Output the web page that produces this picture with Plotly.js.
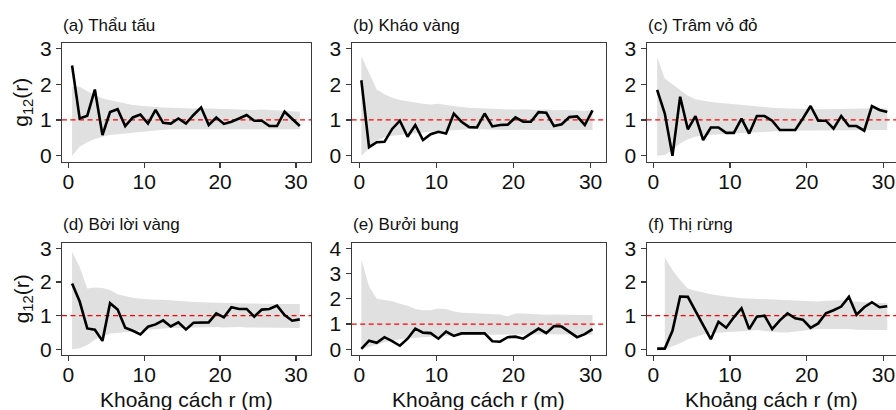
<!DOCTYPE html>
<html><head><meta charset="utf-8">
<script src="https://cdn.plot.ly/plotly-3.0.1.min.js"></script>
<style>html,body{margin:0;padding:0;background:#fff}#chart{width:896px;height:410px}</style>
</head><body><div id="chart"></div><script>
// distance grids (m)
const rMain  = [0.5,1.5,2.5,3.5,4.5,5.5,6.5,7.5,8.5,9.5,10.5,11.5,12.5,13.5,14.5,15.5,16.5,17.5,18.5,19.5,20.5,21.5,22.5,23.5,24.5,25.5,26.5,27.5,28.5,29.5,30.5];
const rShift = [0.25,1.25,2.25,3.25,4.25,5.25,6.25,7.25,8.25,9.25,10.25,11.25,12.25,13.25,14.25,15.25,16.25,17.25,18.25,19.25,20.25,21.25,22.25,23.25,24.25,25.25,26.25,27.25,28.25,29.25,30.25];

// panel titles
const titles = ["(a) Thẩu tấu","(b) Kháo vàng","(c) Trâm vỏ đỏ","(d) Bời lời vàng","(e) Bưởi bung","(f) Thị rừng"];
const xTitle = "Khoảng cách r (m)";
const yTitle = "g<sub>12</sub>(r)";
const refLevel = 1;

// (a) Thẩu tấu
const gA  = [2.52,1.04,1.12,1.85,0.58,1.22,1.30,0.83,1.07,1.15,0.90,1.28,0.92,0.90,1.04,0.90,1.14,1.35,0.86,1.07,0.89,0.95,1.04,1.14,0.98,0.98,0.83,0.83,1.23,1.02,0.83];
const hiA = [1.93,1.93,1.80,1.70,1.60,1.55,1.50,1.46,1.42,1.40,1.37,1.36,1.35,1.34,1.34,1.33,1.32,1.33,1.32,1.31,1.30,1.29,1.30,1.29,1.28,1.29,1.28,1.27,1.26,1.25,1.23];
const loA = [0.00,0.25,0.38,0.47,0.53,0.58,0.61,0.64,0.66,0.68,0.70,0.71,0.73,0.74,0.75,0.75,0.76,0.76,0.75,0.76,0.76,0.75,0.76,0.75,0.75,0.76,0.74,0.74,0.75,0.74,0.74];
// (b) Kháo vàng
const gB  = [2.11,0.24,0.38,0.39,0.75,0.98,0.53,0.86,0.44,0.60,0.67,0.62,1.18,0.95,0.80,0.79,1.18,0.82,0.86,0.87,1.07,0.95,0.95,1.22,1.20,0.83,0.88,1.08,1.10,0.86,1.27];
const hiB = [2.79,2.30,1.85,1.72,1.62,1.56,1.52,1.48,1.45,1.43,1.45,1.42,1.38,1.36,1.34,1.33,1.32,1.31,1.30,1.30,1.29,1.30,1.28,1.28,1.29,1.27,1.28,1.27,1.28,1.26,1.28];
const loB = [0.00,0.20,0.42,0.52,0.56,0.58,0.60,0.63,0.65,0.67,0.68,0.70,0.72,0.73,0.75,0.76,0.75,0.74,0.73,0.72,0.72,0.73,0.72,0.72,0.71,0.70,0.70,0.71,0.72,0.72,0.72];
// (c) Trâm vỏ đỏ
const gC  = [1.84,1.18,0.00,1.65,0.74,1.11,0.44,0.79,0.79,0.64,0.64,1.04,0.62,1.11,1.11,0.98,0.72,0.72,0.72,1.04,1.39,0.98,0.98,0.76,1.11,0.83,0.83,0.70,1.39,1.28,1.22];
const hiC = [2.75,2.16,2.00,1.84,1.68,1.58,1.53,1.50,1.48,1.46,1.44,1.42,1.38,1.37,1.35,1.34,1.33,1.32,1.32,1.32,1.31,1.30,1.30,1.30,1.31,1.32,1.32,1.32,1.33,1.32,1.32];
const loC = [0.00,0.02,0.16,0.34,0.46,0.53,0.57,0.59,0.61,0.62,0.63,0.64,0.65,0.66,0.67,0.68,0.70,0.71,0.72,0.72,0.72,0.71,0.72,0.71,0.70,0.71,0.72,0.72,0.72,0.72,0.72];
// (d) Bời lời vàng
const gD  = [1.96,1.42,0.62,0.58,0.25,1.37,1.18,0.64,0.55,0.44,0.67,0.74,0.86,0.68,0.80,0.59,0.79,0.80,0.80,1.07,0.95,1.25,1.20,1.20,0.97,1.18,1.20,1.30,1.02,0.85,0.89];
const hiD = [2.90,2.45,1.81,1.84,1.82,1.76,1.64,1.58,1.53,1.50,1.48,1.47,1.47,1.45,1.43,1.42,1.41,1.40,1.39,1.38,1.38,1.37,1.37,1.36,1.36,1.35,1.35,1.35,1.35,1.35,1.35];
const loD = [0.00,0.03,0.13,0.28,0.38,0.46,0.49,0.52,0.53,0.56,0.58,0.60,0.62,0.63,0.63,0.64,0.65,0.65,0.65,0.66,0.65,0.65,0.66,0.65,0.65,0.64,0.64,0.65,0.63,0.63,0.63];
// (e) Bưởi bung
const gE  = [0.02,0.34,0.26,0.48,0.32,0.14,0.42,0.82,0.66,0.64,0.42,0.70,0.53,0.63,0.63,0.63,0.63,0.32,0.30,0.48,0.50,0.42,0.62,0.82,0.64,0.92,0.90,0.68,0.48,0.60,0.80];
const hiE = [3.56,2.50,2.00,1.95,1.90,1.80,1.72,1.60,1.55,1.55,1.62,1.60,1.50,1.45,1.44,1.43,1.42,1.40,1.38,1.30,1.42,1.42,1.40,1.38,1.37,1.38,1.37,1.36,1.36,1.36,1.36];
const loE = [0.00,0.10,0.18,0.28,0.35,0.40,0.44,0.46,0.48,0.50,0.52,0.54,0.55,0.56,0.57,0.57,0.58,0.58,0.57,0.58,0.58,0.58,0.59,0.59,0.60,0.61,0.60,0.60,0.59,0.58,0.58];
// (f) Thị rừng
const gF  = [0.02,0.02,0.55,1.57,1.56,1.12,0.72,0.30,0.82,0.64,0.95,1.22,0.60,0.97,1.00,0.60,0.86,1.07,0.92,0.88,0.64,0.77,1.07,1.16,1.27,1.56,1.03,1.25,1.40,1.25,1.28];
const hiF = [null,2.73,2.36,2.06,1.81,1.74,1.68,1.64,1.60,1.57,1.54,1.52,1.51,1.50,1.49,1.49,1.48,1.48,1.47,1.45,1.43,1.42,1.44,1.45,1.46,1.43,1.41,1.40,1.39,1.38,1.37];
const loF = [null,0.00,0.08,0.18,0.30,0.38,0.44,0.48,0.50,0.52,0.53,0.54,0.55,0.57,0.56,0.52,0.50,0.50,0.52,0.55,0.58,0.60,0.62,0.62,0.60,0.60,0.58,0.58,0.57,0.57,0.57];

const W = 896, H = 410;
// layout boxes in pixels: [left, right, top, bottom]
const cols = [
  {l:62,    r:311, xr:[-0.83,31.98]},
  {l:351.7, r:606, xr:[-1.0,32.0]},
  {l:646.7, r:896, xr:[-0.86,31.64]}
];
const rows = [
  {t:43,    b:161.5},
  {t:242.7, b:355}
];
const panels = [
  {r:rMain,  g:gA, lo:loA, hi:hiA, col:0, row:0, yr:[-0.16,3.15], yt:[0,1,2,3]},
  {r:rShift, g:gB, lo:loB, hi:hiB, col:1, row:0, yr:[-0.16,3.15], yt:[0,1,2,3]},
  {r:rMain,  g:gC, lo:loC, hi:hiC, col:2, row:0, yr:[-0.16,3.15], yt:[0,1,2,3]},
  {r:rMain,  g:gD, lo:loD, hi:hiD, col:0, row:1, yr:[-0.17,3.17], yt:[0,1,2,3]},
  {r:rShift, g:gE, lo:loE, hi:hiE, col:1, row:1, yr:[-0.226,4.222], yt:[0,1,2,3,4]},
  {r:rMain,  g:gF, lo:loF, hi:hiF, col:2, row:1, yr:[-0.17,3.17], yt:[0,1,2,3]}
];

const FONT = "Liberation Sans, Arial, sans-serif";
const AXC = "#3a3a3a";
const traces = [];
const layout = {
  width: W, height: H,
  margin: {l:0, r:0, t:0, b:0, pad:0},
  paper_bgcolor: "#fff", plot_bgcolor: "#fff",
  showlegend: false,
  font: {family: FONT, color: "#000", size: 21},
  annotations: []
};

panels.forEach((p, i) => {
  const n = i + 1;
  const xa = "x" + (n === 1 ? "" : n), ya = "y" + (n === 1 ? "" : n);
  const c = cols[p.col], rw = rows[p.row];
  // envelope polygon
  const bx = [], by = [];
  for (let k = 0; k < p.r.length; k++) if (p.hi[k] !== null) { bx.push(p.r[k]); by.push(p.hi[k]); }
  for (let k = p.r.length - 1; k >= 0; k--) if (p.lo[k] !== null) { bx.push(p.r[k]); by.push(p.lo[k]); }
  traces.push({x: bx, y: by, xaxis: xa, yaxis: ya, type: "scatter", mode: "lines",
    fill: "toself", fillcolor: "#e0e0e0", line: {width: 0, color: "rgba(0,0,0,0)"}, hoverinfo: "skip"});
  traces.push({x: [c.xr[0], c.xr[1]], y: [refLevel, refLevel], xaxis: xa, yaxis: ya, type: "scatter", mode: "lines",
    line: {color: "#ff0000", width: 1.3, dash: "5px,3.5px"}, hoverinfo: "skip"});
  traces.push({x: p.r, y: p.g, xaxis: xa, yaxis: ya, type: "scatter", mode: "lines",
    line: {color: "#000", width: 2.6}, hoverinfo: "skip"});

  const axBase = {showline: true, mirror: true, linecolor: AXC, linewidth: 1.2,
    ticks: "outside", ticklen: 5, tickwidth: 1.2, tickcolor: AXC,
    showgrid: false, zeroline: false, fixedrange: true,
    tickfont: {family: FONT, size: 21, color: "#111"}};
  layout["xaxis" + (n === 1 ? "" : n)] = Object.assign({}, axBase, {
    domain: [c.l / W, c.r / W], range: c.xr, anchor: ya, ticklabelstandoff: -4,
    tickmode: "array", tickvals: [0, 10, 20, 30], ticktext: ["0", "10", "20", "30"]});
  layout["yaxis" + (n === 1 ? "" : n)] = Object.assign({}, axBase, {
    domain: [1 - rw.b / H, 1 - rw.t / H], range: p.yr, anchor: xa,
    tickmode: "array", tickvals: p.yt, ticktext: p.yt.map(String)});

  layout.annotations.push({text: titles[i], xref: "paper", yref: "paper",
    x: (c.l - 1) / W, y: 1 - (rw.t - 18) / H, xanchor: "left", yanchor: "middle",
    showarrow: false, font: {family: FONT, size: 17, color: "#111"}});
  if (p.col === 0) {
    layout.annotations.push({text: yTitle, xref: "paper", yref: "paper",
      x: 22.5 / W, y: 1 - ((rw.t + rw.b) / 2) / H, xanchor: "center", yanchor: "middle",
      textangle: -90, showarrow: false, font: {family: FONT, size: 21, color: "#111"}});
  }
  if (p.row === 1) {
    const cx = p.col === 2 ? 771 : (c.l + c.r) / 2;
    layout.annotations.push({text: xTitle, xref: "paper", yref: "paper",
      x: cx / W, y: 1 - 399 / H, xanchor: "center", yanchor: "middle",
      showarrow: false, font: {family: FONT, size: 21, color: "#111"}});
  }
});

Plotly.newPlot("chart", traces, layout, {staticPlot: true, displayModeBar: false});
</script></body></html>
